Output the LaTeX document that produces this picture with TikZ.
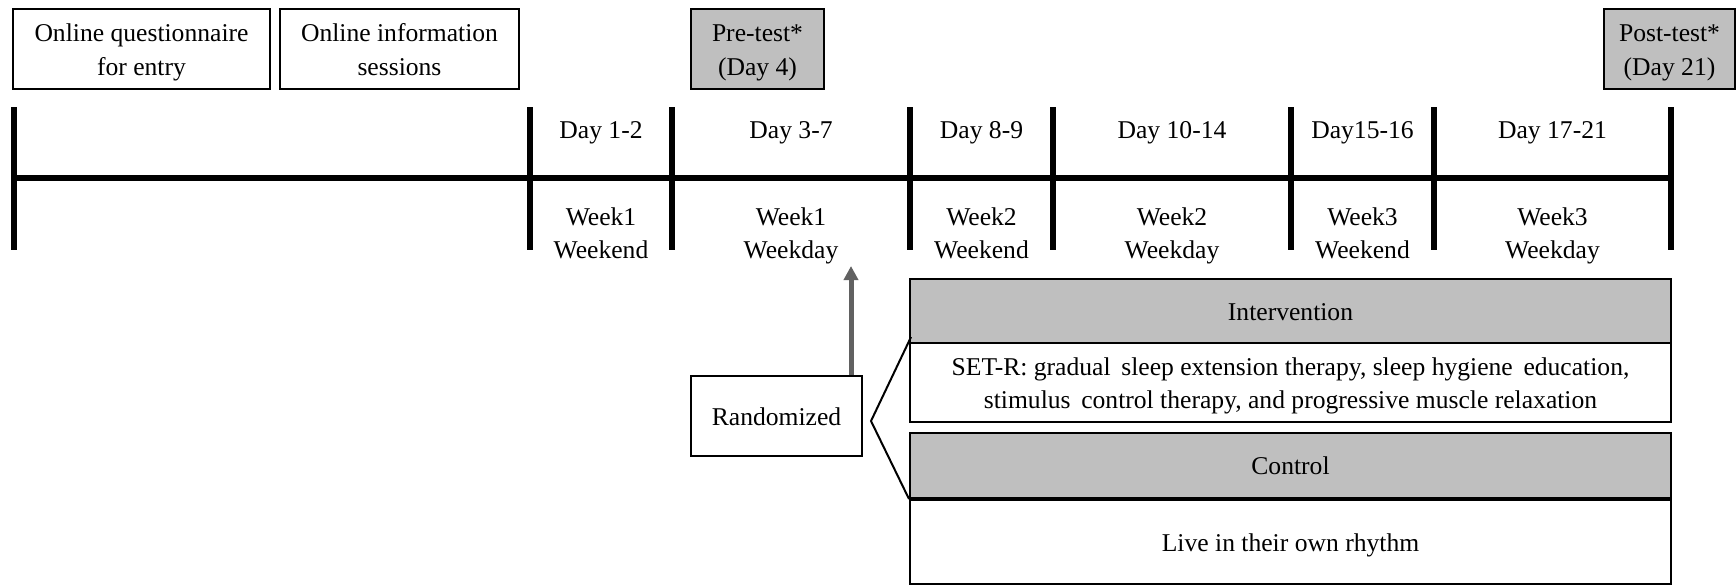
\documentclass[tikz,border=0pt]{standalone}
\usepackage{fontspec}
\setmainfont{Liberation Serif}
\usetikzlibrary{arrows.meta}
\newcommand\mys{\rule[-3.1pt]{0pt}{15.6pt}}
\begin{document}
\begin{tikzpicture}[x=0.5pt,y=-0.5pt,
  every node/.style={font=\fontsize{12.8}{15.5}\selectfont, inner sep=0pt, align=center},
  wbox/.style={draw=black, line width=1pt, fill=white},
  gbox/.style={draw=black, line width=1pt, fill=gray!50},
  tick/.style={line width=2.6pt},
  axis/.style={line width=3pt},
  brk/.style={line width=1pt},
  arr/.style={line width=2.5pt, draw=black!62, -{Triangle[width=7pt,length=7pt]}}
]
\useasboundingbox (0,0) rectangle (1736,585);
% top boxes
\node[wbox, minimum width=128.5pt, minimum height=40pt] (q) at (141.5,49) {Online questionnaire\mys\\for entry\mys};
\node[wbox, minimum width=119.5pt, minimum height=40pt] (info) at (399.5,49) {Online information\mys\\sessions\mys};
\node[gbox, minimum width=66.5pt, minimum height=40pt] (pre) at (757.5,49) {Pre-test*\mys\\(Day 4)\mys};
\node[gbox, minimum width=65.5pt, minimum height=40pt] (post) at (1669.5,49) {Post-test*\mys\\(Day 21)\mys};
% timeline
\foreach \n/\x in {t0/14,t1/530,t2/672,t3/910,t4/1053,t5/1291,t6/1434,t7/1671}{
  \coordinate (\n top) at (\x,107);
  \coordinate (\n bot) at (\x,250);
  \coordinate (\n mid) at (\x,178);
}
\draw[axis] (t0mid) -- (t7mid);
\foreach \n in {t0,t1,t2,t3,t4,t5,t6,t7}{ \draw[tick] (\n top) -- (\n bot); }
% labels
\node (d1) at (601,129.5) {Day 1-2\mys};
\node (d2) at (791,129.5) {Day 3-7\mys};
\node (d3) at (981.5,129.5) {Day 8-9\mys};
\node (d4) at (1172,129.5) {Day 10-14\mys};
\node (d5) at (1362.5,129.5) {Day15-16\mys};
\node (d6) at (1552.5,129.5) {Day 17-21\mys};
\node (w1) at (601,232.5) {Week1\mys\\Weekend\mys};
\node (w2) at (791,232.5) {Week1\mys\\Weekday\mys};
\node (w3) at (981.5,232.5) {Week2\mys\\Weekend\mys};
\node (w4) at (1172,232.5) {Week2\mys\\Weekday\mys};
\node (w5) at (1362.5,232.5) {Week3\mys\\Weekend\mys};
\node (w6) at (1552.5,232.5) {Week3\mys\\Weekday\mys};
% randomized
\node[wbox, minimum width=85.5pt, minimum height=40pt] (rand) at (776.5,416) {Randomized\mys};
\coordinate (arrtip) at (851,266);
\draw[arr] (rand.north -| arrtip) -- (arrtip);
% groups
\node[gbox, minimum width=380.5pt, minimum height=32pt] (int) at (1290.5,311) {Intervention\mys};
\node[wbox, minimum width=380.5pt, minimum height=39.5pt] (setr) at (1290.5,382.5) {SET-R: gradual\, sleep extension therapy, sleep hygiene\, education,\mys\\stimulus\, control therapy, and progressive muscle relaxation\mys};
\node[gbox, minimum width=380.5pt, minimum height=32.5pt] (ctrl) at (1290.5,465.5) {Control\mys};
\node[wbox, minimum width=380.5pt, minimum height=42pt] (live) at (1290.5,542) {Live in their own rhythm\mys};
% bracket
\coordinate (split) at (871,421);
\coordinate (upend) at (911,337);
\draw[brk] (upend) -- (split) -- (ctrl.south west);
\end{tikzpicture}
\end{document}
